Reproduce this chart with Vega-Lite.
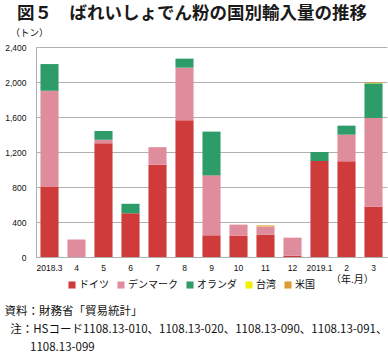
{
  "$schema": "https://vega.github.io/schema/vega-lite/v6.json",
  "autosize": "none",
  "width": 351,
  "height": 210,
  "padding": {"left": 36, "top": 47, "right": 1, "bottom": 95},
  "background": "white",
  "title": {
    "text": "図５　ばれいしょでん粉の国別輸入量の推移",
    "font": "Noto Sans CJK JP",
    "fontSize": 17.5,
    "fontWeight": "bold",
    "color": "#1a1a1a",
    "anchor": "start",
    "frame": "group",
    "dx": -19,
    "offset": 5
  },
  "data": {
    "values": [
      {"m": "2018.3", "c": "ドイツ", "o": 1, "v": 800},
      {"m": "2018.3", "c": "デンマーク", "o": 2, "v": 1100},
      {"m": "2018.3", "c": "オランダ", "o": 3, "v": 305},
      {"m": "4", "c": "デンマーク", "o": 2, "v": 200},
      {"m": "5", "c": "ドイツ", "o": 1, "v": 1300},
      {"m": "5", "c": "デンマーク", "o": 2, "v": 40},
      {"m": "5", "c": "オランダ", "o": 3, "v": 100},
      {"m": "6", "c": "ドイツ", "o": 1, "v": 500},
      {"m": "6", "c": "オランダ", "o": 3, "v": 108},
      {"m": "7", "c": "ドイツ", "o": 1, "v": 1055},
      {"m": "7", "c": "デンマーク", "o": 2, "v": 200},
      {"m": "8", "c": "ドイツ", "o": 1, "v": 1562},
      {"m": "8", "c": "デンマーク", "o": 2, "v": 602},
      {"m": "8", "c": "オランダ", "o": 3, "v": 103},
      {"m": "9", "c": "ドイツ", "o": 1, "v": 248},
      {"m": "9", "c": "デンマーク", "o": 2, "v": 685},
      {"m": "9", "c": "オランダ", "o": 3, "v": 500},
      {"m": "10", "c": "ドイツ", "o": 1, "v": 245},
      {"m": "10", "c": "デンマーク", "o": 2, "v": 125},
      {"m": "11", "c": "ドイツ", "o": 1, "v": 255},
      {"m": "11", "c": "デンマーク", "o": 2, "v": 95},
      {"m": "11", "c": "台湾", "o": 4, "v": 3},
      {"m": "11", "c": "米国", "o": 5, "v": 8},
      {"m": "12", "c": "ドイツ", "o": 1, "v": 15},
      {"m": "12", "c": "デンマーク", "o": 2, "v": 206},
      {"m": "2019.1", "c": "ドイツ", "o": 1, "v": 1097},
      {"m": "2019.1", "c": "オランダ", "o": 3, "v": 103},
      {"m": "2", "c": "ドイツ", "o": 1, "v": 1094},
      {"m": "2", "c": "デンマーク", "o": 2, "v": 304},
      {"m": "2", "c": "オランダ", "o": 3, "v": 103},
      {"m": "3", "c": "ドイツ", "o": 1, "v": 575},
      {"m": "3", "c": "デンマーク", "o": 2, "v": 1014},
      {"m": "3", "c": "オランダ", "o": 3, "v": 396},
      {"m": "3", "c": "台湾", "o": 4, "v": 4},
      {"m": "3", "c": "米国", "o": 5, "v": 6}
    ]
  },
  "mark": {"type": "bar"},
  "encoding": {
    "x": {
      "field": "m",
      "type": "ordinal",
      "sort": ["2018.3", "4", "5", "6", "7", "8", "9", "10", "11", "12", "2019.1", "2", "3"],
      "scale": {"paddingInner": 0.33, "paddingOuter": 0.165},
      "axis": {
        "grid": false,
        "labelAngle": 0,
        "labelFont": "Liberation Sans",
        "labelFontSize": 8.5,
        "labelColor": "#111",
        "labelPadding": 6,
        "ticks": false,
        "domainColor": "#b0b0b0",
        "title": ["資料：財務省「貿易統計」", "\u200b\u2002注：HSコード1108.13-010、1108.13-020、1108.13-090、1108.13-091、", "\u200b\u3000\u3000 1108.13-099"],
        "titleFont": "Noto Sans CJK JP",
        "titleFontSize": 11.5,
        "titleFontWeight": "normal",
        "titleColor": "#111",
        "titleAlign": "left",
        "titleAnchor": "start",
        "titleBaseline": "top",
        "titleX": -32,
        "titleY": 48,
        "titleLineHeight": 18,
        "titleLimit": 400
      }
    },
    "y": {
      "field": "v",
      "type": "quantitative",
      "aggregate": "sum",
      "stack": "zero",
      "scale": {"domain": [0, 2400], "nice": false},
      "axis": {
        "grid": true,
        "values": [0, 400, 800, 1200, 1600, 2000, 2400],
        "format": ",d",
        "labelFont": "Liberation Sans",
        "labelFontSize": 8.5,
        "labelColor": "#111",
        "labelPadding": 10,
        "ticks": false,
        "domainColor": "#b0b0b0",
        "gridColor": "#b0b0b0",
        "title": "（トン）",
        "titleFont": "Noto Sans CJK JP",
        "titleFontSize": 9.5,
        "titleFontWeight": "normal",
        "titleColor": "#111",
        "titleAngle": 0,
        "titleAlign": "left",
        "titleBaseline": "middle",
        "titleX": -26,
        "titleY": -15
      }
    },
    "color": {
      "field": "c",
      "type": "nominal",
      "scale": {
        "domain": ["ドイツ", "デンマーク", "オランダ", "台湾", "米国"],
        "range": ["#cf3a3b", "#df8d9c", "#2e9c68", "#f2f200", "#dd9a35"]
      },
      "legend": {
        "orient": "none",
        "direction": "horizontal",
        "columns": 5,
        "legendX": 31,
        "legendY": 233,
        "symbolType": "square",
        "symbolSize": 50,
        "symbolStrokeWidth": 0,
        "labelFont": "Noto Sans CJK JP",
        "labelFontSize": 10,
        "labelColor": "#111",
        "labelOffset": 2,
        "columnPadding": 7,
        "title": "（年.月）",
        "titleOrient": "right",
        "titleFont": "Noto Sans CJK JP",
        "titleFontSize": 10,
        "titleFontWeight": "normal",
        "titleColor": "#111",
        "titlePadding": 16,
        "titleBaseline": "bottom"
      }
    },
    "order": {"field": "o", "type": "quantitative"}
  },
  "config": {
    "view": {"stroke": null}
  }
}
